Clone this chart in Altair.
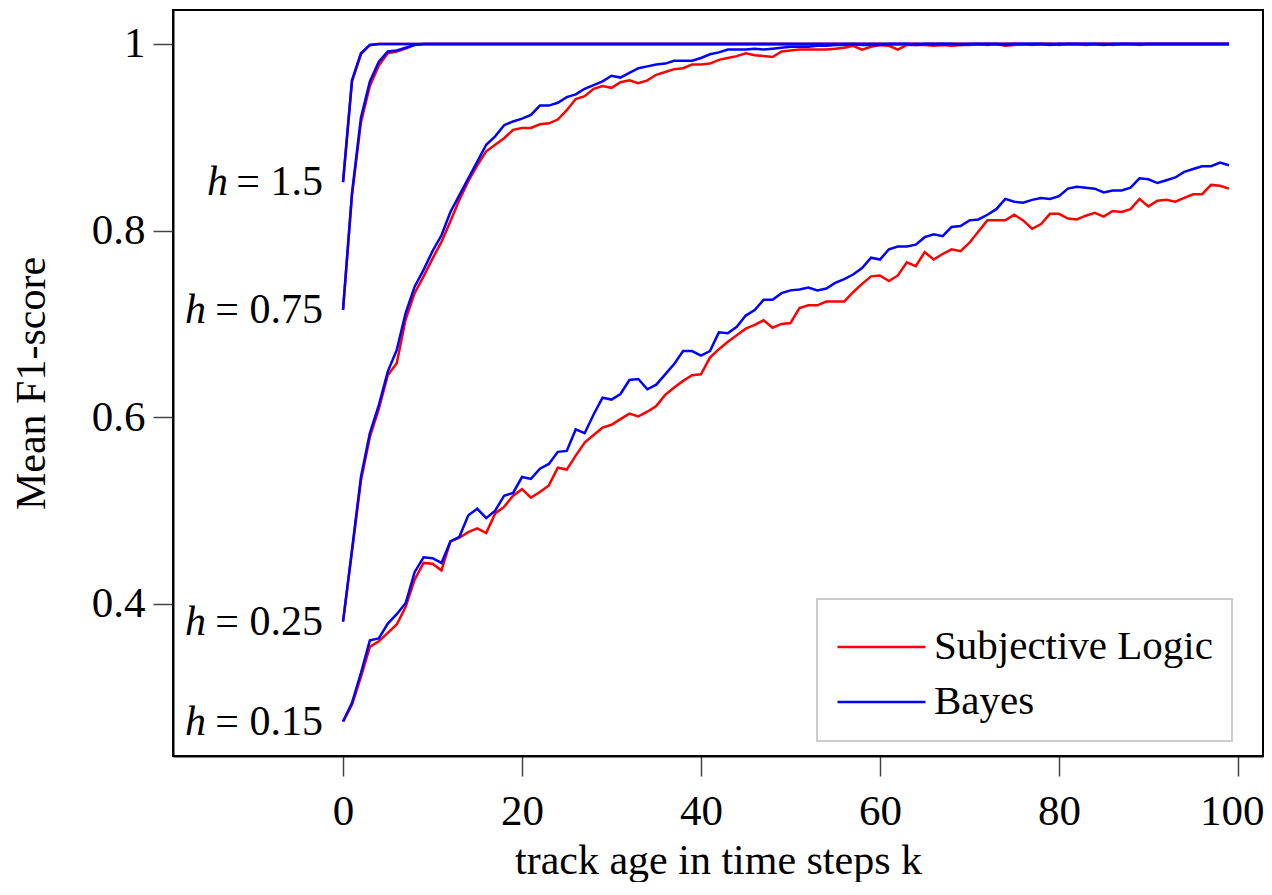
import altair as alt
import pandas as pd

k = list(range(100))

sl_h015 = [
    0.274, 0.292, 0.322, 0.354, 0.360, 0.369, 0.378, 0.397, 0.426, 0.444,
    0.443, 0.436, 0.467, 0.471, 0.477, 0.481, 0.476, 0.497, 0.504, 0.516,
    0.523, 0.514, 0.520, 0.527, 0.546, 0.544, 0.559, 0.573, 0.581, 0.589,
    0.592, 0.598, 0.604, 0.601, 0.606, 0.612, 0.624, 0.632, 0.639, 0.645,
    0.646, 0.664, 0.673, 0.681, 0.688, 0.695, 0.699, 0.704, 0.696, 0.700,
    0.701, 0.717, 0.720, 0.720, 0.724, 0.724, 0.724, 0.734, 0.743, 0.751,
    0.752, 0.746, 0.752, 0.766, 0.762, 0.777, 0.769, 0.775, 0.780, 0.778,
    0.787, 0.799, 0.811, 0.811, 0.811, 0.817, 0.811, 0.802, 0.807, 0.818,
    0.818, 0.813, 0.812, 0.816, 0.819, 0.815, 0.821, 0.820, 0.823, 0.834,
    0.826, 0.832, 0.833, 0.831, 0.835, 0.839, 0.839, 0.849, 0.848, 0.845,
]
bayes_h015 = [
    0.274, 0.294, 0.326, 0.361, 0.363, 0.379, 0.389, 0.401, 0.434, 0.450,
    0.449, 0.444, 0.467, 0.472, 0.495, 0.502, 0.492, 0.500, 0.516, 0.519,
    0.536, 0.534, 0.545, 0.550, 0.563, 0.564, 0.587, 0.583, 0.603, 0.621,
    0.619, 0.625, 0.640, 0.641, 0.630, 0.635, 0.646, 0.657, 0.671, 0.671,
    0.666, 0.671, 0.691, 0.690, 0.697, 0.709, 0.715, 0.726, 0.726, 0.733,
    0.736, 0.737, 0.739, 0.736, 0.738, 0.744, 0.748, 0.753, 0.760, 0.771,
    0.769, 0.780, 0.783, 0.783, 0.785, 0.793, 0.796, 0.794, 0.804, 0.805,
    0.811, 0.812, 0.817, 0.823, 0.834, 0.831, 0.830, 0.833, 0.835, 0.834,
    0.837, 0.845, 0.847, 0.846, 0.845, 0.841, 0.843, 0.843, 0.846, 0.856,
    0.855, 0.851, 0.854, 0.857, 0.863, 0.866, 0.869, 0.869, 0.873, 0.870,
]
sl_h025 = [
    0.381, 0.456, 0.532, 0.579, 0.609, 0.645, 0.658, 0.705, 0.733, 0.751,
    0.770, 0.788, 0.810, 0.833, 0.853, 0.870, 0.885, 0.892, 0.899, 0.908,
    0.910, 0.910, 0.914, 0.915, 0.919, 0.929, 0.941, 0.944, 0.952, 0.955,
    0.953, 0.959, 0.961, 0.958, 0.961, 0.967, 0.970, 0.973, 0.974, 0.978,
    0.978, 0.979, 0.983, 0.985, 0.987, 0.990, 0.988, 0.987, 0.986, 0.992,
    0.993, 0.994, 0.994, 0.994, 0.994, 0.995, 0.996, 0.998, 0.994, 0.997,
    0.999, 0.998, 0.994, 0.999, 0.999, 0.999, 0.998, 0.999, 0.998, 0.999,
    0.999, 1.000, 0.999, 1.000, 0.998, 0.999, 1.000, 0.999, 1.000, 1.000,
    0.999, 1.000, 1.000, 0.999, 1.000, 1.000, 0.999, 1.000, 1.000, 0.999,
    1.000, 1.000, 1.000, 1.000, 1.000, 1.000, 1.000, 1.000, 1.000, 1.000,
]
bayes_h025 = [
    0.381, 0.458, 0.536, 0.583, 0.613, 0.649, 0.672, 0.712, 0.740, 0.758,
    0.778, 0.795, 0.820, 0.838, 0.856, 0.874, 0.892, 0.901, 0.913, 0.917,
    0.920, 0.924, 0.934, 0.934, 0.937, 0.943, 0.946, 0.952, 0.956, 0.960,
    0.966, 0.964, 0.969, 0.974, 0.976, 0.978, 0.979, 0.982, 0.982, 0.982,
    0.985, 0.989, 0.991, 0.994, 0.994, 0.994, 0.995, 0.994, 0.995, 0.996,
    0.997, 0.997, 0.997, 0.998, 0.998, 0.999, 0.999, 1.000, 0.999, 0.999,
    0.999, 1.000, 1.000, 1.000, 0.999, 1.000, 1.000, 1.000, 1.000, 0.999,
    1.000, 1.000, 1.000, 1.000, 0.999, 1.000, 1.000, 1.000, 1.000, 0.999,
    1.000, 1.000, 1.000, 1.000, 1.000, 0.999, 1.000, 1.000, 1.000, 1.000,
    1.000, 1.000, 1.000, 1.000, 1.000, 1.000, 1.000, 1.000, 1.000, 1.000,
]
sl_h075 = [
    0.715, 0.838, 0.916, 0.955, 0.977, 0.990, 0.992, 0.995, 0.999, 1.000,
    1.000, 1.000, 1.000, 1.000, 1.000, 1.000, 1.000, 1.000, 1.000, 1.000,
    1.000, 1.000, 1.000, 1.000, 1.000, 1.000, 1.000, 1.000, 1.000, 1.000,
    1.000, 1.000, 1.000, 1.000, 1.000, 1.000, 1.000, 1.000, 1.000, 1.000,
    1.000, 1.000, 1.000, 1.000, 1.000, 1.000, 1.000, 1.000, 1.000, 1.000,
    1.000, 1.000, 1.000, 1.000, 1.000, 1.000, 1.000, 1.000, 1.000, 1.000,
    1.000, 1.000, 1.000, 1.000, 1.000, 1.000, 1.000, 1.000, 1.000, 1.000,
    1.000, 1.000, 1.000, 1.000, 1.000, 1.000, 1.000, 1.000, 1.000, 1.000,
    1.000, 1.000, 1.000, 1.000, 1.000, 1.000, 1.000, 1.000, 1.000, 1.000,
    1.000, 1.000, 1.000, 1.000, 1.000, 1.000, 1.000, 1.000, 1.000, 1.000,
]
bayes_h075 = [
    0.715, 0.840, 0.921, 0.960, 0.981, 0.992, 0.993, 0.996, 0.999, 1.000,
    1.000, 1.000, 1.000, 1.000, 1.000, 1.000, 1.000, 1.000, 1.000, 1.000,
    1.000, 1.000, 1.000, 1.000, 1.000, 1.000, 1.000, 1.000, 1.000, 1.000,
    1.000, 1.000, 1.000, 1.000, 1.000, 1.000, 1.000, 1.000, 1.000, 1.000,
    1.000, 1.000, 1.000, 1.000, 1.000, 1.000, 1.000, 1.000, 1.000, 1.000,
    1.000, 1.000, 1.000, 1.000, 1.000, 1.000, 1.000, 1.000, 1.000, 1.000,
    1.000, 1.000, 1.000, 1.000, 1.000, 1.000, 1.000, 1.000, 1.000, 1.000,
    1.000, 1.000, 1.000, 1.000, 1.000, 1.000, 1.000, 1.000, 1.000, 1.000,
    1.000, 1.000, 1.000, 1.000, 1.000, 1.000, 1.000, 1.000, 1.000, 1.000,
    1.000, 1.000, 1.000, 1.000, 1.000, 1.000, 1.000, 1.000, 1.000, 1.000,
]
sl_h15 = [
    0.852, 0.960, 0.989, 0.999, 1.000, 1.000, 1.000, 1.000, 1.000, 1.000,
    1.000, 1.000, 1.000, 1.000, 1.000, 1.000, 1.000, 1.000, 1.000, 1.000,
    1.000, 1.000, 1.000, 1.000, 1.000, 1.000, 1.000, 1.000, 1.000, 1.000,
    1.000, 1.000, 1.000, 1.000, 1.000, 1.000, 1.000, 1.000, 1.000, 1.000,
    1.000, 1.000, 1.000, 1.000, 1.000, 1.000, 1.000, 1.000, 1.000, 1.000,
    1.000, 1.000, 1.000, 1.000, 1.000, 1.000, 1.000, 1.000, 1.000, 1.000,
    1.000, 1.000, 1.000, 1.000, 1.000, 1.000, 1.000, 1.000, 1.000, 1.000,
    1.000, 1.000, 1.000, 1.000, 1.000, 1.000, 1.000, 1.000, 1.000, 1.000,
    1.000, 1.000, 1.000, 1.000, 1.000, 1.000, 1.000, 1.000, 1.000, 1.000,
    1.000, 1.000, 1.000, 1.000, 1.000, 1.000, 1.000, 1.000, 1.000, 1.000,
]
bayes_h15 = [
    0.852, 0.961, 0.990, 0.999, 1.000, 1.000, 1.000, 1.000, 1.000, 1.000,
    1.000, 1.000, 1.000, 1.000, 1.000, 1.000, 1.000, 1.000, 1.000, 1.000,
    1.000, 1.000, 1.000, 1.000, 1.000, 1.000, 1.000, 1.000, 1.000, 1.000,
    1.000, 1.000, 1.000, 1.000, 1.000, 1.000, 1.000, 1.000, 1.000, 1.000,
    1.000, 1.000, 1.000, 1.000, 1.000, 1.000, 1.000, 1.000, 1.000, 1.000,
    1.000, 1.000, 1.000, 1.000, 1.000, 1.000, 1.000, 1.000, 1.000, 1.000,
    1.000, 1.000, 1.000, 1.000, 1.000, 1.000, 1.000, 1.000, 1.000, 1.000,
    1.000, 1.000, 1.000, 1.000, 1.000, 1.000, 1.000, 1.000, 1.000, 1.000,
    1.000, 1.000, 1.000, 1.000, 1.000, 1.000, 1.000, 1.000, 1.000, 1.000,
    1.000, 1.000, 1.000, 1.000, 1.000, 1.000, 1.000, 1.000, 1.000, 1.000,
]

methods = ["Subjective Logic", "Bayes"]
method_colors = ["#ff0000", "#0000ff"]
h_values = ["0.15", "0.25", "0.75", "1.5"]
sl_series = [sl_h015, sl_h025, sl_h075, sl_h15]
bayes_series = [bayes_h015, bayes_h025, bayes_h075, bayes_h15]

rows = []
for h, sl, by in zip(h_values, sl_series, bayes_series):
    for i, kk in enumerate(k):
        rows.append({"k": kk, "h": h, "method": methods[0], "f1": sl[i]})
        rows.append({"k": kk, "h": h, "method": methods[1], "f1": by[i]})
df = pd.DataFrame(rows)

label_df = pd.DataFrame({
    "k": [k[0]] * len(h_values),
    "f1": [by[0] for by in bayes_series],
    "hv": h_values,
    "num": ["= " + h for h in h_values],
    "hs": ["h"] * len(h_values),
})

FONT = "Liberation Serif"

x_scale = alt.Scale(domain=[-19.0, 102.8], nice=False, zero=False)
y_scale = alt.Scale(domain=[0.2371, 1.0364], nice=False, zero=False)
color_scale = alt.Scale(domain=methods, range=method_colors)

x_enc = alt.X(
    "k:Q", scale=x_scale,
    axis=alt.Axis(
        values=[0, 20, 40, 60, 80, 100], title="track age in time steps k",
        titleY=84, labelFlush=30, labelFlushOffset=26,
    ),
)
y_enc = alt.Y(
    "f1:Q", scale=y_scale,
    axis=alt.Axis(
        values=[0.4, 0.6, 0.8, 1.0], title="Mean F1-score",
        labelExpr="datum.value == 1 ? '1' : format(datum.value, '.1f')",
        titleX=-120, titleY=373,
    ),
)

legend = alt.Legend(title=None)
base = alt.Chart(df)

sl_line = base.transform_filter(alt.datum.method == methods[0]).mark_line(
    strokeWidth=2.5, clip=True
).encode(
    x=x_enc, y=y_enc,
    color=alt.Color("method:N", scale=color_scale, legend=legend),
    detail="h:N",
    order="k:Q",
)
bayes_line = base.transform_filter(alt.datum.method == methods[1]).mark_line(
    strokeWidth=2.5, clip=True
).encode(
    x=x_enc, y=y_enc,
    color=alt.Color("method:N", scale=color_scale, legend=legend),
    detail="h:N",
    order="k:Q",
)

lab = alt.Chart(label_df)
num_text = lab.mark_text(
    align="right", baseline="middle", dx=-20, font=FONT, fontSize=42, color="black"
).encode(x=alt.X("k:Q", scale=x_scale), y=alt.Y("f1:Q", scale=y_scale), text="num:N")

h_short = lab.transform_filter("length(datum.hv) == 3").mark_text(
    align="right", baseline="middle", dx=-115, font=FONT, fontSize=42,
    fontStyle="italic", color="black"
).encode(x=alt.X("k:Q", scale=x_scale), y=alt.Y("f1:Q", scale=y_scale), text="hs:N")

h_long = lab.transform_filter("length(datum.hv) == 4").mark_text(
    align="right", baseline="middle", dx=-137, font=FONT, fontSize=42,
    fontStyle="italic", color="black"
).encode(x=alt.X("k:Q", scale=x_scale), y=alt.Y("f1:Q", scale=y_scale), text="hs:N")

chart = alt.layer(sl_line, bayes_line, num_text, h_short, h_long).properties(
    width=1090, height=746,
    autosize="none",
    padding={"left": 165, "top": 2, "right": 1, "bottom": 126},
).configure_view(
    stroke="black", strokeWidth=2
).configure_axis(
    grid=False,
    domainColor="black", domainWidth=2,
    tickColor="#444444", tickWidth=1.5, tickSize=20,
    labelFont=FONT, labelFontSize=43, labelColor="black",
    titleFont=FONT, titleFontSize=42, titleFontWeight="normal", titleColor="black",
).configure_axisX(
    labelPadding=14,
).configure_axisY(
    labelPadding=8,
).configure_legend(
    orient="none", legendX=644, legendY=589,
    symbolType="M-1,0H2.2", symbolSize=3025, symbolStrokeWidth=2.5,
    symbolFillColor="transparent",
    labelFont=FONT, labelFontSize=41, labelColor="black", labelOffset=40,
    labelLimit=400,
    padding=19, rowPadding=6,
    strokeColor="#cccccc", strokeWidth=2, fillColor="white", cornerRadius=0,
)

chart.save("out.html", embed_options={"renderer": "svg", "actions": False})
